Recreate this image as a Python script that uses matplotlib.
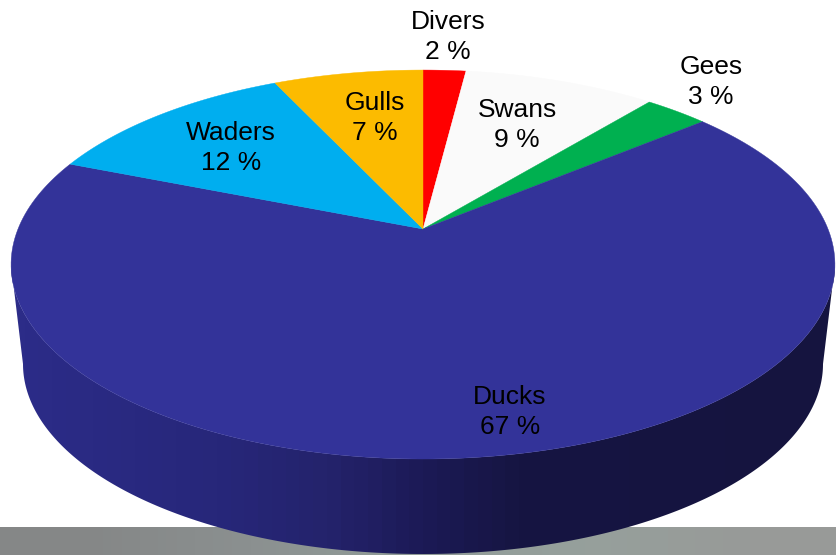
import numpy as np
import matplotlib
matplotlib.use("Agg")
import matplotlib.pyplot as plt
from matplotlib.patches import Polygon
from matplotlib.colors import LinearSegmentedColormap

# Data (clockwise from 12 o'clock)
categories = ["Divers", "Swans", "Gees", "Ducks", "Waders", "Gulls"]
shares = [2, 9, 3, 67, 12, 7]

# Style
colors = ["#ff0000", "#fafafa", "#00b050", "#333399", "#00aeef", "#fcbb00"]
label_pos = [(448, 37), (517, 125), (711, 82), (510, 412), (231, 148), (375, 118)]

W, H = 837, 555
fig = plt.figure(figsize=(W / 100, H / 100), dpi=100)
ax = fig.add_axes([0, 0, 1, 1])
ax.axis("off")

# Perspective-tilted disc
cx, apex_y = 423, 229
k = 0.1827
a, b = 405, 188


def project(theta):
    """theta measured clockwise from the top of the disc."""
    u, v = np.sin(theta), np.cos(theta)
    d = 1 + k * v
    return cx + a * u / d, apex_y - b * v / d


# Grey strip at the bottom of the picture
strip = np.array([[0.0, 0.25, 0.55, 0.75, 1.0]])
strip_cmap = LinearSegmentedColormap.from_list(
    "strip", ["#858787", "#8b9090", "#909b97", "#96a09c", "#989a98"])
ax.imshow(strip, extent=(0, W, 555, 527), aspect="auto", cmap=strip_cmap,
          vmin=0, vmax=1, zorder=1, interpolation="bilinear")

# Side wall: between the top rim and a lower, slightly smaller rim
top_c, top_rx, top_ry = 264.5, 412, 194.5
bot_c, bot_rx, bot_ry = 364.0, 400, 190
wall_cmap = LinearSegmentedColormap.from_list(
    "wall",
    [(0.0, "#2c2c88"), (0.25, "#27277a"), (0.38, "#24236c"),
     (0.5, "#1c1a56"), (0.62, "#161542"), (1.0, "#15143f")])
t = np.linspace(0, np.pi, 300)
outline = np.r_[np.c_[cx + top_rx * np.cos(t), top_c + top_ry * np.sin(t)],
                np.c_[cx + bot_rx * np.cos(t[::-1]), bot_c + bot_ry * np.sin(t[::-1])]]
clip = Polygon(outline, closed=True, transform=ax.transData, facecolor="none", edgecolor="none")
ax.add_patch(clip)
grad = np.linspace(0, 1, 60)[None, :]
wall = ax.imshow(grad, extent=(11, 835, 560, 255), aspect="auto", cmap=wall_cmap,
                 vmin=0, vmax=1, zorder=2, interpolation="nearest")
wall.set_clip_path(clip)

# Slices on the top face
edges = np.cumsum([0] + shares) / sum(shares) * 2 * np.pi
for i, col in enumerate(colors):
    th = np.linspace(edges[i], edges[i + 1], 200)
    x, y = project(th)
    ax.fill(np.r_[cx, x], np.r_[apex_y, y], facecolor=col, edgecolor=col,
            linewidth=0.3, zorder=3)

# Labels
for name, val, (lx, ly) in zip(categories, shares, label_pos):
    ax.text(lx, ly, f"{name}\n{val} %", ha="center", va="center", fontsize=19,
            family="Liberation Sans", color="black", linespacing=1.27, zorder=4)

ax.set_xlim(0, W)
ax.set_ylim(H, 0)
fig.savefig("out.png", dpi=100, facecolor="white")
